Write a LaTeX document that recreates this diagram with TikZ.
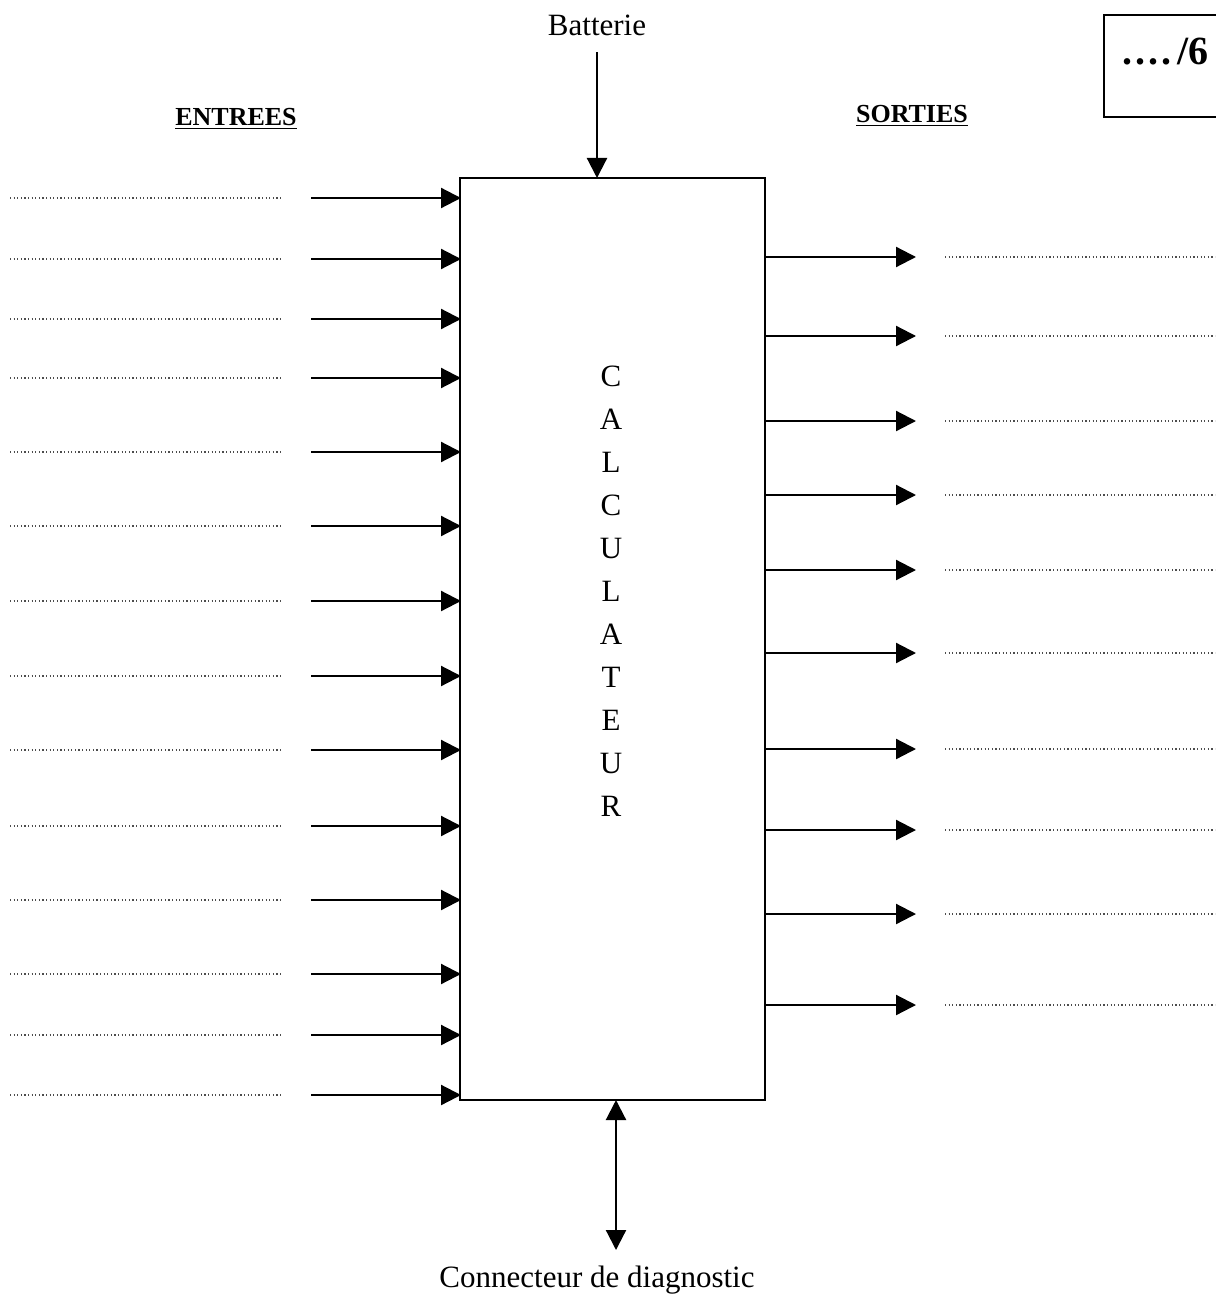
\documentclass[tikz,border=0pt]{standalone}
\usepackage{fontspec}
\setmainfont{Liberation Serif}
\usetikzlibrary{arrows.meta}
\begin{document}
\begin{tikzpicture}[x=0.5pt,y=-0.5pt,
  arr/.style={line width=1.1pt,-{Triangle[length=10pt,width=10pt]}},
  dots/.style={line width=0.6pt,black!70,dash pattern=on 0.6pt off 1.2pt},
  lbl/.style={font=\fontsize{15.5}{18}\selectfont},
  head/.style={font=\fontsize{13}{15}\selectfont\bfseries}]
\useasboundingbox (0,0) rectangle (1215,1294);
\node[draw,line width=0.9pt,minimum width=152.5pt,minimum height=461pt,inner sep=0pt] (calc) at (612.5,639) {};
\node[lbl,align=center,font=\fontsize{15.5}{21.5}\selectfont] (txt) at (611,591) {C\\A\\L\\C\\U\\L\\A\\T\\E\\U\\R};
\node[lbl] (bat) at (597,25) {Batterie};
\coordinate (batin) at (597,178);
\draw[arr] (bat.south) ++(0,10) coordinate (bs) -- (batin);
\node[lbl] (diag) at (597,1280) {Connecteur de diagnostic};
\coordinate (dtop) at (616,1100);
\coordinate (dbot) at (616,1250);
\draw[line width=1.1pt,{Triangle[length=10pt,width=10pt]}-{Triangle[length=10pt,width=10pt]}] (dtop) -- (dbot);
\node[head] (ent) at (236,119) {\underline{ENTREES}};
\node[head] (sor) at (912,116) {\underline{SORTIES}};
\draw[line width=1pt] (1216,15) -- (1104,15) -- (1104,117) -- (1216,117);
\node[font=\fontsize{20}{24}\selectfont\bfseries,anchor=east] (note) at (1216,52) {.\kern1.5pt.\kern1.5pt.\kern1.5pt.\,/6};
\foreach \y [count=\i] in {198,259,319,378,452,526,601,676,750,826,900,974,1035,1095}{
  \coordinate (ia\i) at (311,\y);
  \coordinate (ib\i) at (461,\y);
  \coordinate (da\i) at (10,\y);
  \coordinate (db\i) at (282,\y);
  \draw[arr] (ia\i) -- (ib\i);
  \draw[dots] (da\i) -- (db\i);
}
\foreach \y [count=\i] in {257,336,421,495,570,653,749,830,914,1005}{
  \coordinate (oa\i) at (765,\y);
  \coordinate (ob\i) at (916,\y);
  \coordinate (ea\i) at (945,\y);
  \coordinate (eb\i) at (1215,\y);
  \draw[arr] (oa\i) -- (ob\i);
  \draw[dots] (ea\i) -- (eb\i);
}
\end{tikzpicture}
\end{document}
